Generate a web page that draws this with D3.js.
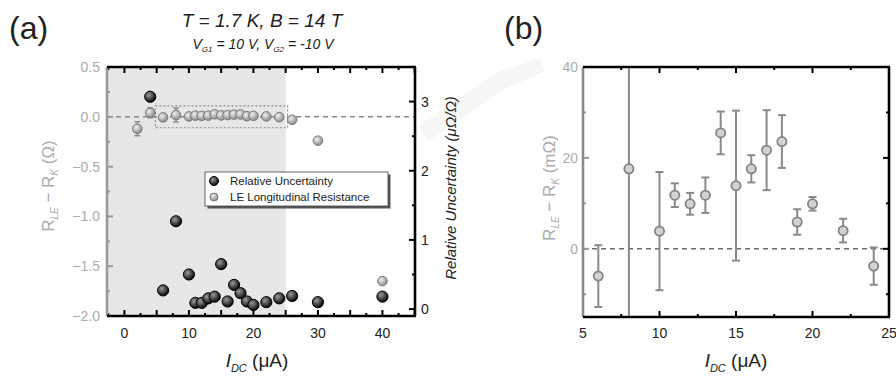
<!DOCTYPE html>
<html>
<head>
<meta charset="utf-8">
<script src="https://cdn.jsdelivr.net/npm/d3@7"></script>
<style>
  html, body { margin: 0; padding: 0; background: #fff; }
  svg { display: block; font-family: "Liberation Sans", Arial, sans-serif; }
</style>
</head>
<body>
<svg id="fig" width="896" height="377"></svg>
<script>
// ---- data ----------------------------------------------------------------
// LE longitudinal resistance, R_LE - R_K, in mΩ (with 1σ error)
const leCurrent = [2, 4, 6, 8, 10, 11, 12, 13, 14, 15, 16, 17, 18, 19, 20, 22, 24, 26, 30, 40];
const leValue   = [-120, 40, -6, 17.6, 3.9, 11.8, 9.9, 11.8, 25.5, 13.9, 17.6, 21.7, 23.6, 5.9, 9.9, 4.0, -3.8, -30, -240, -1650];
const leError   = [70, 50, 6.8, 70, 13, 2.6, 2.4, 3.9, 4.7, 16.5, 3, 8.8, 5.8, 2.8, 1.5, 2.6, 4.1, 10, 10, 10];

// relative uncertainty of the quantized resistance, μΩ/Ω
const ruCurrent = [4, 6, 8, 10, 11, 12, 13, 14, 15, 16, 17, 18, 19, 20, 22, 24, 26, 30, 40];
const ruValue   = [3.07, 0.27, 1.27, 0.50, 0.09, 0.09, 0.155, 0.18, 0.65, 0.11, 0.35, 0.23, 0.11, 0.06, 0.10, 0.155, 0.19, 0.10, 0.18];

// axis ticks
const aXLabels = [0, 10, 20, 30, 40];
const aYLabels = [0.5, 0.0, -0.5, -1.0, -1.5, -2.0];
const aRLabels = [0, 1, 2, 3];
const bXLabels = [5, 10, 15, 20, 25];
const bYLabels = [40, 20, 0];

const legendLabels = ["Relative Uncertainty", "LE Longitudinal Resistance"];

// ---- setup ---------------------------------------------------------------
const svg = d3.select("#fig");
svg.append("rect").attr("width", 896).attr("height", 377).attr("fill", "#fff");

const defs = svg.append("defs");
function ball(id, hi, lo) {
  const g = defs.append("radialGradient").attr("id", id)
    .attr("cx", "38%").attr("cy", "35%").attr("r", "65%");
  g.append("stop").attr("offset", "0%").attr("stop-color", hi);
  g.append("stop").attr("offset", "100%").attr("stop-color", lo);
}
ball("ballBlack", "#9a9a9a", "#050505");
ball("ballGray", "#eeeeee", "#8c8c8c");

// faint diagonal band in the background
svg.append("path")
  .attr("d", "M418,126 L498,72 L540,58 L545,72 L505,88 L428,142 Z")
  .attr("fill", "#f6f6f6");

const GRAY_AXIS = "#9a9a9a";
const GRAY_TEXT = "#ababab";
const SPINE = 2.6;

// draws inward ticks along one side
function ticks(g, scale, values, len, side, color) {
  values.forEach(v => {
    const p = scale(v);
    let x1, y1, x2, y2;
    if (side === "bottom") { x1 = x2 = p; y1 = 0; y2 = -len; }
    if (side === "top")    { x1 = x2 = p; y1 = 0; y2 = len; }
    if (side === "left")   { y1 = y2 = p; x1 = 0; x2 = len; }
    if (side === "right")  { y1 = y2 = p; x1 = 0; x2 = -len; }
    g.append("line").attr("x1", x1).attr("y1", y1).attr("x2", x2).attr("y2", y2)
      .attr("stroke", color).attr("stroke-width", 2);
  });
}
function range(a, b, s) { const r = []; for (let v = a; v <= b + 1e-9; v += s) r.push(+v.toFixed(4)); return r; }

// ======================= panel (a) =========================================
const aL = 107, aR = 415, aT = 67, aB = 316;
const ax = d3.scaleLinear().domain([-2.7, 45.05]).range([aL, aR]);
const ay = d3.scaleLinear().domain([-2.0, 0.5]).range([aB, aT]);
const ayR = d3.scaleLinear().domain([-0.1, 3.5]).range([aB, aT]);

const pa = svg.append("g");

// low-current region shading
pa.append("rect").attr("x", aL).attr("y", aT).attr("width", ax(25) - aL).attr("height", aB - aT)
  .attr("fill", "#e7e7e7");

// zoom window shown in panel (b)
pa.append("rect").attr("x", ax(4.8)).attr("y", ay(0.11))
  .attr("width", ax(25.3) - ax(4.8)).attr("height", ay(-0.11) - ay(0.11))
  .attr("fill", "none").attr("stroke", "#8a8a8a").attr("stroke-width", 1.2).attr("stroke-dasharray", "2,2");

// zero reference
pa.append("line").attr("x1", aL).attr("x2", aR).attr("y1", ay(0)).attr("y2", ay(0))
  .attr("stroke", "#8a8a8a").attr("stroke-width", 1.5).attr("stroke-dasharray", "5,4");

// LE resistance (Ω) with error bars
const leA = leCurrent.map((c, i) => ({ c, v: leValue[i] / 1000, e: leError[i] / 1000 }));
const eb = pa.append("g").attr("stroke", "#8a8a8a").attr("stroke-width", 1.4);
leA.forEach(d => {
  if (ay(d.v - d.e) - ay(d.v + d.e) > 8) {
    eb.append("line").attr("x1", ax(d.c)).attr("x2", ax(d.c)).attr("y1", ay(d.v + d.e)).attr("y2", ay(d.v - d.e));
    [d.v + d.e, d.v - d.e].forEach(y => eb.append("line")
      .attr("x1", ax(d.c) - 3).attr("x2", ax(d.c) + 3).attr("y1", ay(y)).attr("y2", ay(y)));
  }
});
pa.append("g").selectAll("circle").data(leA).join("circle")
  .attr("cx", d => ax(d.c)).attr("cy", d => ay(d.v)).attr("r", 4.8)
  .attr("fill", "url(#ballGray)").attr("stroke", "#7a7a7a").attr("stroke-width", 1);

// relative uncertainty on the right axis
pa.append("g").selectAll("circle").data(ruCurrent.map((c, i) => ({ c, v: ruValue[i] }))).join("circle")
  .attr("cx", d => ax(d.c)).attr("cy", d => ayR(d.v)).attr("r", 5.6)
  .attr("fill", "url(#ballBlack)").attr("stroke", "#000").attr("stroke-width", 1);

// ticks
const gB = pa.append("g").attr("transform", `translate(0,${aB})`);
ticks(gB, ax, range(0, 45, 5), 6, "bottom", "#000");
ticks(gB, ax, range(-2.5, 42.5, 5).filter(v => v > -2.7), 3, "bottom", "#000");
const gT = pa.append("g").attr("transform", `translate(0,${aT})`);
ticks(gT, ax, range(0, 45, 5), 6, "top", "#000");
ticks(gT, ax, range(-2.5, 42.5, 5).filter(v => v > -2.7), 3, "top", "#000");
const gLa = pa.append("g").attr("transform", `translate(${aL},0)`);
ticks(gLa, ay, range(-2, 0.5, 0.5), 6, "left", GRAY_AXIS);
ticks(gLa, ay, range(-1.75, 0.25, 0.5), 3, "left", GRAY_AXIS);
const gRa = pa.append("g").attr("transform", `translate(${aR},0)`);
ticks(gRa, ayR, range(0, 3, 1), 6, "right", "#000");
ticks(gRa, ayR, range(0.5, 3.5, 1), 3, "right", "#000");

// spines
pa.append("line").attr("x1", aL).attr("x2", aL).attr("y1", aT).attr("y2", aB).attr("stroke", GRAY_AXIS).attr("stroke-width", SPINE);
pa.append("line").attr("x1", aL).attr("x2", aR + 1).attr("y1", aB).attr("y2", aB).attr("stroke", "#000").attr("stroke-width", SPINE);
pa.append("line").attr("x1", aL).attr("x2", aR + 1).attr("y1", aT).attr("y2", aT).attr("stroke", "#000").attr("stroke-width", SPINE);
pa.append("line").attr("x1", aR).attr("x2", aR).attr("y1", aT).attr("y2", aB).attr("stroke", "#000").attr("stroke-width", SPINE);

// tick labels
pa.append("g").selectAll("text").data(aXLabels).join("text")
  .attr("x", d => ax(d)).attr("y", aB + 22).attr("text-anchor", "middle")
  .attr("font-size", 14).attr("fill", "#222").text(d => d);
pa.append("g").selectAll("text").data(aYLabels).join("text")
  .attr("x", aL - 7).attr("y", d => ay(d) + 5).attr("text-anchor", "end")
  .attr("font-size", 14).attr("fill", GRAY_TEXT).text(d => d3.format(".1f")(d));
pa.append("g").selectAll("text").data(aRLabels).join("text")
  .attr("x", aR + 6).attr("y", d => ayR(d) + 5).attr("text-anchor", "start")
  .attr("font-size", 14).attr("fill", "#222").text(d => d);

// legend
const lg = pa.append("g").attr("transform", "translate(205,172)");
lg.append("rect").attr("x", 2.5).attr("y", 2.5).attr("width", 183).attr("height", 34).attr("fill", "#555");
lg.append("rect").attr("x", 0).attr("y", 0).attr("width", 183).attr("height", 34)
  .attr("fill", "#fff").attr("stroke", "#444").attr("stroke-width", 0.8);
lg.append("circle").attr("cx", 9).attr("cy", 9).attr("r", 4.5).attr("fill", "url(#ballBlack)").attr("stroke", "#000");
lg.append("circle").attr("cx", 9).attr("cy", 25).attr("r", 4).attr("fill", "url(#ballGray)").attr("stroke", "#7a7a7a");
lg.selectAll("text.l").data(legendLabels).join("text").attr("class", "l")
  .attr("x", 25).attr("y", (d, i) => 13 + i * 16).attr("font-size", 11.5).attr("fill", "#222").text(d => d);

// axis titles
function rTitle(g, x, y, unit) {
  const t = g.append("text").attr("transform", `translate(${x},${y}) rotate(-90)`)
    .attr("text-anchor", "middle").attr("font-size", 17).attr("fill", GRAY_TEXT);
  t.append("tspan").text("R");
  t.append("tspan").attr("font-size", 10).attr("font-style", "italic").attr("dy", 4).text("LE");
  t.append("tspan").attr("dy", -4).text(" \u2212 R");
  t.append("tspan").attr("font-size", 10).attr("font-style", "italic").attr("dy", 4).text("K");
  t.append("tspan").attr("dy", -4).text(" (" + unit + ")");
}
function iTitle(g, x, y) {
  const t = g.append("text").attr("x", x).attr("y", y).attr("text-anchor", "middle")
    .attr("font-size", 19).attr("fill", "#222");
  t.append("tspan").attr("font-style", "italic").text("I");
  t.append("tspan").attr("font-style", "italic").attr("font-size", 11).attr("dy", 5).text("DC");
  t.append("tspan").attr("dy", -5).text(" (\u03bcA)");
}
rTitle(pa, 54, 186, "\u03a9");
iTitle(pa, 257, 367);

pa.append("text").attr("transform", "translate(456,188) rotate(-90)").attr("text-anchor", "middle")
  .attr("font-size", 15).attr("font-style", "italic").attr("fill", "#222")
  .text("Relative Uncertainty (\u03bc\u03a9/\u03a9)");

// condition labels
svg.append("text").attr("x", 262).attr("y", 27).attr("text-anchor", "middle")
  .attr("font-size", 19).attr("font-style", "italic").attr("fill", "#222")
  .text("T = 1.7 K, B = 14 T");
const sub = svg.append("text").attr("x", 263).attr("y", 49).attr("text-anchor", "middle")
  .attr("font-size", 14).attr("font-style", "italic").attr("fill", "#222");
sub.append("tspan").text("V");
sub.append("tspan").attr("font-size", 8).attr("dy", 3).text("G1");
sub.append("tspan").attr("dy", -3).text(" = 10 V, V");
sub.append("tspan").attr("font-size", 8).attr("dy", 3).text("G2");
sub.append("tspan").attr("dy", -3).text(" = -10 V");

svg.append("text").attr("x", 9).attr("y", 39).attr("font-size", 32).attr("fill", "#222").text("(a)");
svg.append("text").attr("x", 504).attr("y", 39).attr("font-size", 32).attr("fill", "#222").text("(b)");

// ======================= panel (b) =========================================
const bL = 583, bR = 889, bT = 67, bB = 317;
const bx = d3.scaleLinear().domain([5, 25]).range([bL, bR]);
const by = d3.scaleLinear().domain([-15, 40]).range([bB, bT]);
const pb = svg.append("g");

pb.append("line").attr("x1", bL).attr("x2", bR).attr("y1", by(0)).attr("y2", by(0))
  .attr("stroke", "#6a6a6a").attr("stroke-width", 1.6).attr("stroke-dasharray", "5,4");

const leB = leCurrent.map((c, i) => ({ c, v: leValue[i], e: leError[i] })).filter(d => d.c >= 5 && d.c <= 25);
const clip = pb.append("clipPath").attr("id", "bclip");
clip.append("rect").attr("x", bL).attr("y", bT).attr("width", bR - bL).attr("height", bB - bT);
const ebB = pb.append("g").attr("clip-path", "url(#bclip)").attr("stroke", "#8a8a8a").attr("stroke-width", 2);
leB.forEach(d => {
  ebB.append("line").attr("x1", bx(d.c)).attr("x2", bx(d.c)).attr("y1", by(d.v + d.e)).attr("y2", by(d.v - d.e));
  [d.v + d.e, d.v - d.e].forEach(y => ebB.append("line")
    .attr("x1", bx(d.c) - 4).attr("x2", bx(d.c) + 4).attr("y1", by(y)).attr("y2", by(y)));
});
pb.append("g").selectAll("circle").data(leB).join("circle")
  .attr("cx", d => bx(d.c)).attr("cy", d => by(d.v)).attr("r", 4.6)
  .attr("fill", "#d2d2d2").attr("stroke", "#858585").attr("stroke-width", 1.8);

const hB = pb.append("g").attr("transform", `translate(0,${bB})`);
ticks(hB, bx, range(5, 25, 5), 6, "bottom", "#000");
ticks(hB, bx, range(7.5, 22.5, 5), 3, "bottom", "#000");
const hT = pb.append("g").attr("transform", `translate(0,${bT})`);
ticks(hT, bx, range(5, 25, 5), 6, "top", "#000");
ticks(hT, bx, range(7.5, 22.5, 5), 3, "top", "#000");
const hL = pb.append("g").attr("transform", `translate(${bL},0)`);
ticks(hL, by, [0, 20, 40], 6, "left", GRAY_AXIS);
ticks(hL, by, [-10, 10, 30], 3, "left", GRAY_AXIS);
const hR = pb.append("g").attr("transform", `translate(${bR},0)`);
ticks(hR, by, [0, 20, 40], 6, "right", "#000");
ticks(hR, by, [-10, 10, 30], 3, "right", "#000");

pb.append("line").attr("x1", bL).attr("x2", bL).attr("y1", bT).attr("y2", bB).attr("stroke", "#8a8a8a").attr("stroke-width", SPINE);
pb.append("line").attr("x1", bL).attr("x2", bR + 1).attr("y1", bB).attr("y2", bB).attr("stroke", "#000").attr("stroke-width", SPINE);
pb.append("line").attr("x1", bL).attr("x2", bR + 1).attr("y1", bT).attr("y2", bT).attr("stroke", "#000").attr("stroke-width", SPINE);
pb.append("line").attr("x1", bR).attr("x2", bR).attr("y1", bT).attr("y2", bB).attr("stroke", "#000").attr("stroke-width", SPINE);

pb.append("g").selectAll("text").data(bXLabels).join("text")
  .attr("x", d => bx(d)).attr("y", bB + 21).attr("text-anchor", "middle")
  .attr("font-size", 14).attr("fill", "#222").text(d => d);
pb.append("g").selectAll("text").data(bYLabels).join("text")
  .attr("x", bL - 5).attr("y", d => by(d) + 5).attr("text-anchor", "end")
  .attr("font-size", 14).attr("fill", GRAY_TEXT).text(d => d);

rTitle(pb, 555, 188, "m\u03a9");
iTitle(pb, 736, 367);
</script>
</body>
</html>
